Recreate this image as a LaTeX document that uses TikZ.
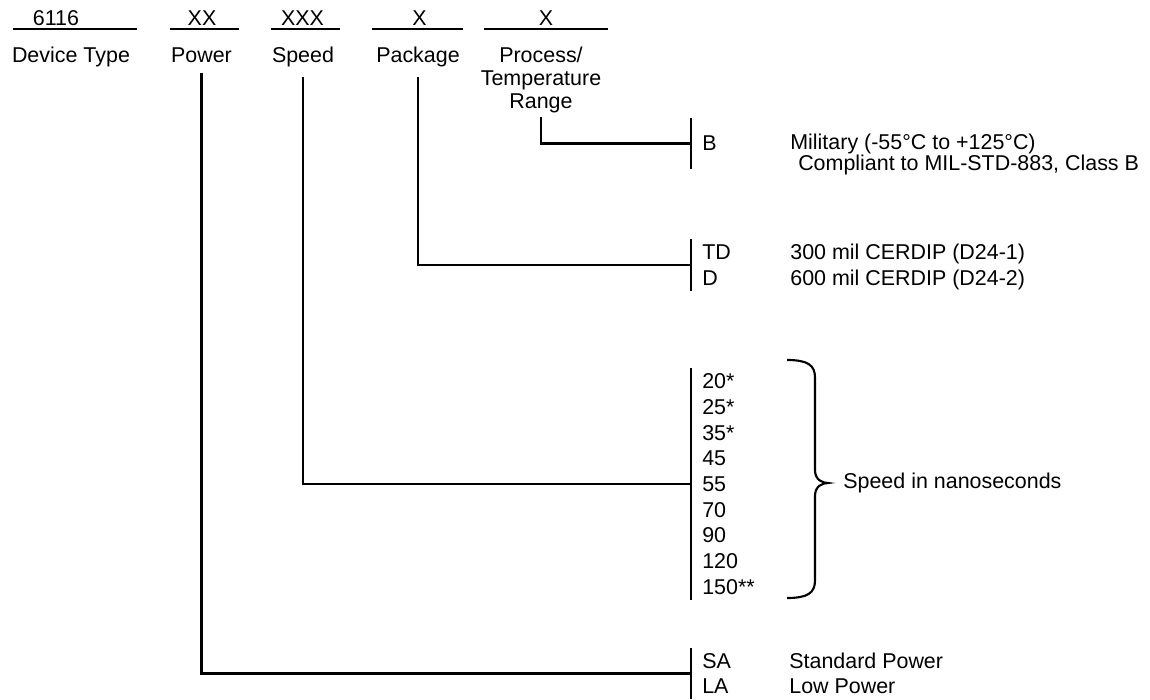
\documentclass[tikz,border=0pt]{standalone}
\usepackage{fontspec}
\setmainfont{Liberation Sans}
\usetikzlibrary{positioning}
\tikzset{
  code/.style  = {anchor=base, font=\fontsize{12.2}{14.6}\selectfont},
  lbl/.style   = {anchor=base, font=\fontsize{12.2}{14.6}\selectfont},
  uline/.style = {line width=1.2pt},
  conn/.style  = {line width=1.2pt, shorten <=2pt},
  bar/.style   = {line width=1.2pt},
  opts/.style  = {anchor=west, align=left, inner xsep=6.2pt, inner ysep=3pt,
                  font=\fontsize{12.2}{14.6}\selectfont},
  desc/.style  = {anchor=west, align=left, inner sep=0pt,
                  font=\fontsize{12.2}{14.6}\selectfont},
}

\begin{document}
\begin{tikzpicture}
  \useasboundingbox (0,0) rectangle (23,-14);

  % part number fields
  \node[code] (cdev)  at (1.12,-0.514)  {6116};
  \node[code] (cpow)  at (4.04,-0.514)  {XX};
  \node[code] (cspd)  at (6.05,-0.514)  {XXX};
  \node[code] (cpkg)  at (8.39,-0.514)  {X};
  \node[code] (cproc) at (10.92,-0.514) {X};
  \draw[uline] (0.26,-0.58) -- (2.74,-0.58);
  \draw[uline] (3.40,-0.58) -- (4.78,-0.58);
  \draw[uline] (5.42,-0.58) -- (6.80,-0.58);
  \draw[uline] (7.44,-0.58) -- (9.26,-0.58);
  \draw[uline] (9.68,-0.58) -- (12.16,-0.58);

  % field names
  \node[lbl] (ldev) at (1.42,-1.254) {Device Type};
  \node[lbl] (lpow) at (4.03,-1.254) {Power};
  \node[lbl] (lspd) at (6.06,-1.254) {Speed};
  \node[lbl] (lpkg) at (8.36,-1.254) {Package};
  \node[anchor=north, align=center, inner sep=0pt,
        font=\fontsize{12.2}{13}\selectfont] (lproc) at (10.82,-0.94)
        {Process/\\Temperature\\Range};

  % option lists
  \node[opts, minimum height=1cm] (blist) at (13.82,-2.87) {B};
  \node[opts] (pkglist) at (13.82,-5.30) {TD\\D};
  \node[opts] (spdlist) at (13.82,-9.68)
        {20*\\25*\\35*\\45\\55\\70\\90\\120\\150**};
  \node[opts] (pwrlist) at (13.82,-13.47) {SA\\LA};
  \draw[bar] (blist.north west) -- (blist.south west);
  \draw[bar] (pkglist.north west) -- (pkglist.south west);
  \draw[bar] (spdlist.north west) -- (spdlist.south west);
  \draw[bar] (pwrlist.north west) -- (pwrlist.south west);

  % meanings
  \node[desc, font=\fontsize{12.2}{10.6}\selectfont] (bdesc) at (15.80,-3.09)
        {Military (-55°C to +125°C)\\\hspace*{4.5pt}Compliant to MIL-STD-883, Class B};
  \node[desc] (pkgdesc) at (15.80,-5.34)
        {300 mil CERDIP (D24-1)\\600 mil CERDIP (D24-2)};
  \node[desc] (pwrdesc) at (15.78,-13.47) {Standard Power\\Low Power};

  % brace over the speed grades
  \draw[line width=1.2pt] (15.74,-7.20) .. controls (16.15,-7.20) and (16.30,-7.30) .. (16.30,-7.55)
    -- (16.30,-9.40) .. controls (16.30,-9.60) and (16.45,-9.66) .. (16.56,-9.66)
    .. controls (16.45,-9.66) and (16.30,-9.72) .. (16.30,-9.92)
    -- (16.30,-11.61) .. controls (16.30,-11.86) and (16.15,-11.96) .. (15.74,-11.96);
  \coordinate (tip) at (16.56,-9.66);
  \node[desc, right=0.3cm of tip] (nsnote) {Speed in nanoseconds};

  % connectors
  \draw[conn] (lproc.south) |- (blist.west);
  \draw[conn] (lpkg.south) |- (pkglist.west);
  \draw[conn] (lspd.south) |- (spdlist.west);
  \draw[conn] (lpow.south) |- (pwrlist.west);
\end{tikzpicture}
\end{document}
